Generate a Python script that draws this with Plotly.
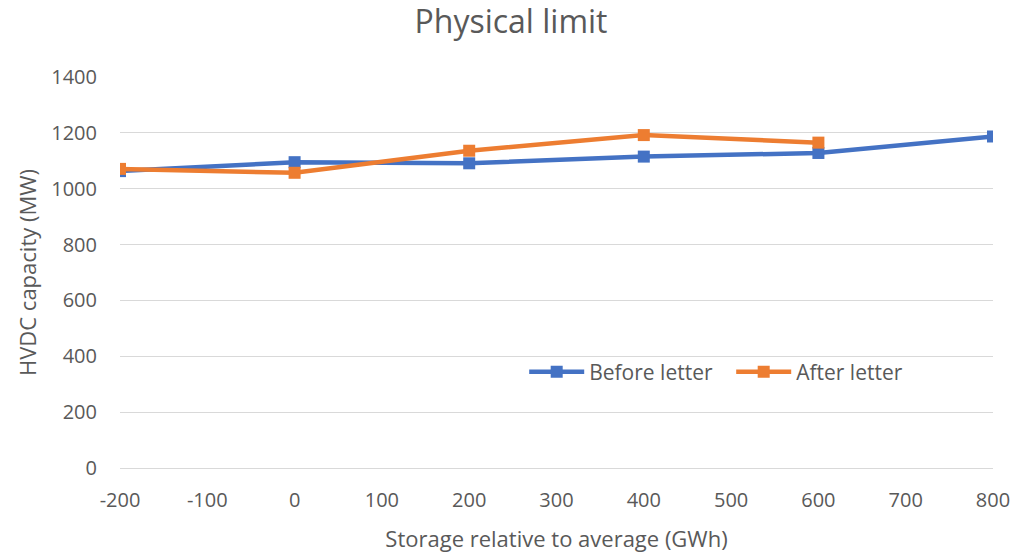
import plotly.graph_objects as go

storage = [-200, 0, 200, 400, 600, 800]
before_letter = [1063, 1095, 1091, 1115, 1128, 1187]
storage_after = [-200, 0, 200, 400, 600]
after_letter = [1071, 1057, 1136, 1192, 1165]
y_ticks = [0, 200, 400, 600, 800, 1000, 1200, 1400]
x_ticks = [-200, -100, 0, 100, 200, 300, 400, 500, 600, 700, 800]

FONT = "Open Sans"
GREY = "#595959"

fig = go.Figure()
fig.add_trace(go.Scatter(
    x=storage, y=before_letter, mode="lines+markers", name="Before letter",
    line=dict(color="#4472C4", width=4.5),
    marker=dict(symbol="square", size=12, color="#4472C4"),
))
fig.add_trace(go.Scatter(
    x=storage_after, y=after_letter, mode="lines+markers", name="After letter",
    line=dict(color="#ED7D31", width=4.5),
    marker=dict(symbol="square", size=12, color="#ED7D31"),
))

fig.update_layout(
    width=1022, height=553,
    margin=dict(l=120, r=29, t=77, b=85),
    paper_bgcolor="white", plot_bgcolor="white",
    font=dict(family=FONT, color=GREY, size=20),
    title=dict(text="Physical limit", x=0.5, xanchor="center", y=0.96, yanchor="middle",
               font=dict(size=32, color=GREY, family=FONT)),
    xaxis=dict(
        range=[-200, 800], tickvals=x_ticks, ticktext=[str(v) for v in x_ticks],
        showgrid=False, zeroline=False, showline=True, linecolor="#D9D9D9", linewidth=1,
        ticks="", ticklabelstandoff=14, automargin=False,
        title=dict(text="Storage relative to average (GWh)", font=dict(size=22, color=GREY), standoff=20),
        tickfont=dict(size=20, color=GREY),
    ),
    yaxis=dict(
        range=[0, 1400], tickvals=y_ticks, ticktext=[str(v) for v in y_ticks],
        showgrid=True, gridcolor="#D9D9D9", gridwidth=1, zeroline=False, showline=False,
        ticks="", ticklabelstandoff=22, automargin=False,
        title=dict(text="HVDC capacity (MW)", font=dict(size=22, color=GREY), standoff=8),
        tickfont=dict(size=20, color=GREY),
    ),
    legend=dict(orientation="h", x=0.463, y=0.245, xanchor="left", yanchor="middle",
                bgcolor="rgba(0,0,0,0)", font=dict(size=21, color=GREY),
                itemwidth=55, entrywidth=137, entrywidthmode="pixels"),
    showlegend=True,
)
fig.write_html("out.html")
